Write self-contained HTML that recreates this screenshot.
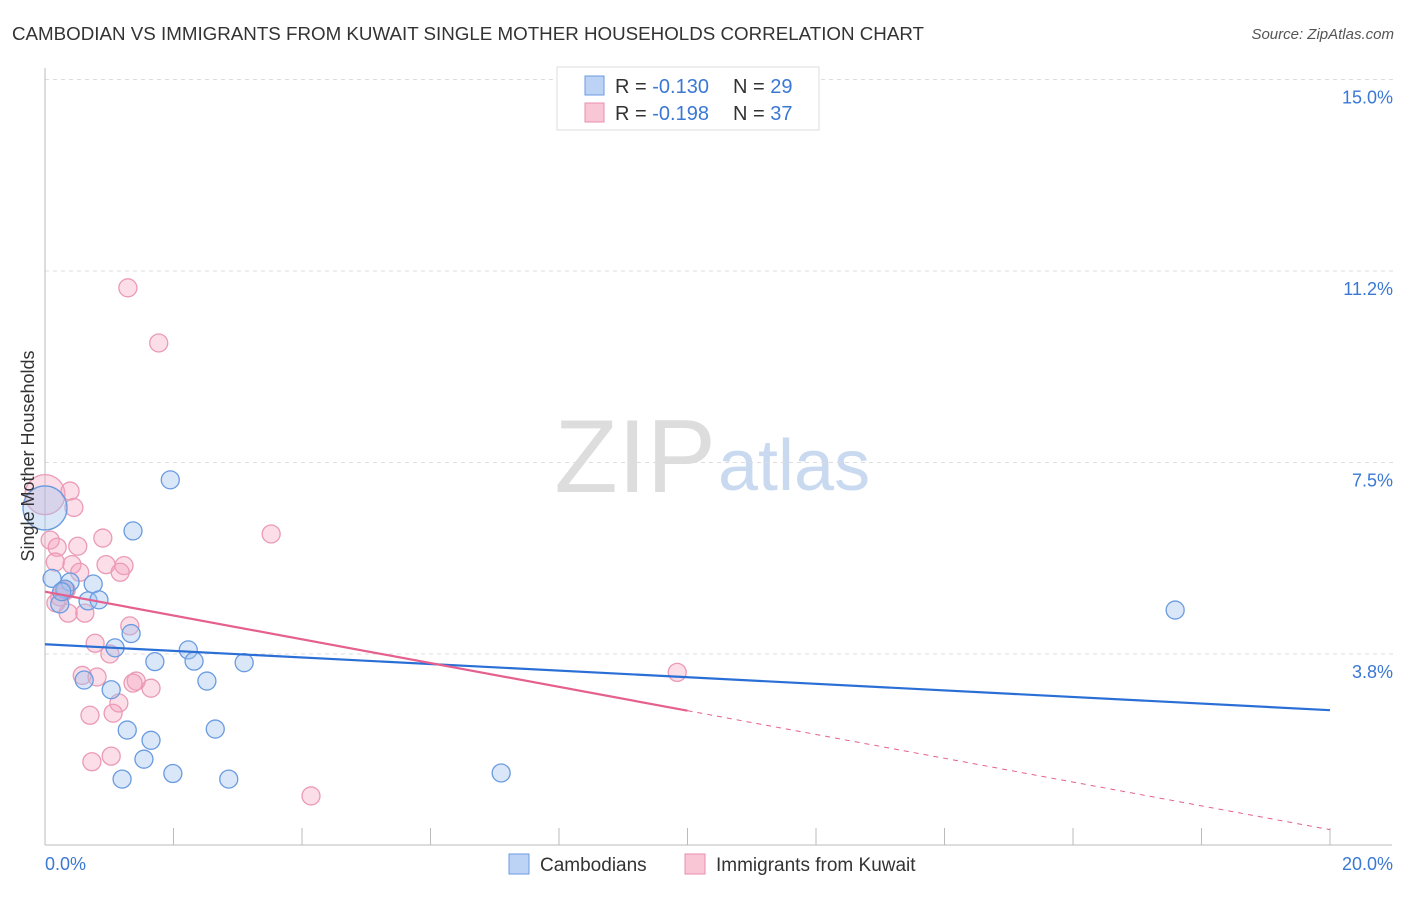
<!DOCTYPE html>
<html><head><meta charset="utf-8"><style>
body{margin:0;background:#fff;font-family:"Liberation Sans",sans-serif;}
svg text{font-family:"Liberation Sans",sans-serif;}
</style></head><body>
<svg id="chart" width="1406" height="892">
<text x="12" y="40" font-size="18" fill="#333" textLength="912" lengthAdjust="spacingAndGlyphs">CAMBODIAN VS IMMIGRANTS FROM KUWAIT SINGLE MOTHER HOUSEHOLDS CORRELATION CHART</text>
<text x="1394" y="39" font-size="15" fill="#555" text-anchor="end" font-style="italic">Source: ZipAtlas.com</text>
<text x="716" y="492" font-size="104" fill="#ddd" text-anchor="end" font-family="Liberation Serif">ZIP</text>
<text x="718" y="490" font-size="72" fill="#c9daf0">atlas</text>
<g id="grid"></g><g id="axes"></g><g id="marks"></g>
<text transform="translate(34,456) rotate(-90)" font-size="18" fill="#333" text-anchor="middle">Single Mother Households</text>
<g>
<rect x="557" y="67" width="262" height="63" fill="#fff" stroke="#ddd"/>
<rect x="585" y="76" width="19" height="19" fill="#bcd3f5" stroke="#6a9be0"/>
<rect x="585" y="103" width="19" height="19" fill="#f9c6d6" stroke="#ea8fae"/>
<text x="615" y="93" font-size="20" fill="#333">R = <tspan fill="#3a78d4">-0.130</tspan><tspan x="733">N = </tspan><tspan fill="#3a78d4">29</tspan></text>
<text x="615" y="120" font-size="20" fill="#333">R = <tspan fill="#3a78d4">-0.198</tspan><tspan x="733">N = </tspan><tspan fill="#3a78d4">37</tspan></text>
</g>
<g>
<rect x="509" y="854" width="20" height="20" fill="#bcd3f5" stroke="#6a9be0"/>
<text x="540" y="871" font-size="19" fill="#333">Cambodians</text>
<rect x="685" y="854" width="20" height="20" fill="#f9c6d6" stroke="#ea8fae"/>
<text x="716" y="871" font-size="19" fill="#333">Immigrants from Kuwait</text>
</g>
</svg>
<script>
const blueX=[1.95,1.37,0.11,0.39,0.75,0.31,0.23,0.67,0.84,1.34,1.09,2.23,2.32,1.71,3.10,0.61,2.52,1.03,2.65,1.28,1.65,1.54,1.99,1.20,2.86,7.10,17.59,0.0,0.26];
const blueY=[7.16,6.16,5.23,5.16,5.12,5.02,4.73,4.79,4.81,4.15,3.87,3.83,3.61,3.60,3.58,3.24,3.22,3.05,2.28,2.26,2.06,1.69,1.41,1.30,1.30,1.42,4.61,6.61,4.97];
const blueR=[9,9,9,9,9,9,9,9,9,9,9,9,9,9,9,9,9,9,9,9,9,9,9,9,9,9,9,22,9];
const pinkX=[1.29,1.77,0,0.39,0.45,3.52,0.08,0.19,0.90,0.51,0.16,0.42,0.95,1.23,1.17,0.54,0.23,0.33,0.36,0.62,0.17,1.32,0.78,1.01,0.58,0.81,1.42,1.37,1.65,1.15,1.06,0.70,9.84,1.03,0.73,4.14,0.30];
const pinkY=[10.92,9.84,6.87,6.94,6.62,6.10,5.98,5.84,6.02,5.86,5.55,5.50,5.50,5.48,5.35,5.35,4.87,5.00,4.55,4.55,4.75,4.30,3.96,3.75,3.33,3.30,3.22,3.18,3.08,2.79,2.59,2.55,3.39,1.75,1.64,0.97,4.97];
const pinkR=[9,9,20,9,9,9,9,9,9,9,9,9,9,9,9,9,9,9,9,9,9,9,9,9,9,9,9,9,9,9,9,9,9,9,9,9,9];
const yTicks=[3.75,7.5,11.25,15.0];
const yTickLabels=["3.8%","7.5%","11.2%","15.0%"];
const xTicks=[0,2,4,6,8,10,12,14,16,18,20];
const blueTrend=[3.94,2.65];
const pinkTrend=[4.97,0.31];
const pinkSolidEnd=10;
const NS="http://www.w3.org/2000/svg";
const sx=v=>45+v*64.25, sy=v=>845.5-v*51.07;
function mk(t,a,p){const e=document.createElementNS(NS,t);for(const k in a)e.setAttribute(k,a[k]);p.appendChild(e);return e;}
const grid=document.getElementById('grid'),axes=document.getElementById('axes'),marks=document.getElementById('marks');
yTicks.forEach((v,i)=>{
 const l=mk('line',{x1:45,x2:1393,y1:sy(v),y2:sy(v),stroke:'#ddd','stroke-dasharray':'4,4'},grid);
 
 
 const t=mk('text',{x:1393,y:sy(v)+24,'font-size':18,fill:'#3a78d4','text-anchor':'end'},axes);
 t.textContent=yTickLabels[i];
 
 
});
mk('line',{x1:45,x2:45,y1:68,y2:845,stroke:'#bbb'},axes);
mk('line',{x1:45,x2:1392,y1:845,y2:845,stroke:'#bbb'},axes);
xTicks.forEach(v=>{const l=mk('line',{x1:sx(v),x2:sx(v),y1:828,y2:845,stroke:'#bbb'},axes);
 
 });
const x0=mk('text',{x:45,y:870,'font-size':18,fill:'#3a78d4'},axes);x0.textContent='0.0%';


const x1=mk('text',{x:1393,y:870,'font-size':18,fill:'#3a78d4','text-anchor':'end'},axes);x1.textContent='20.0%';


pinkX.forEach((x,i)=>{const c=mk('circle',{cx:sx(x),cy:sy(pinkY[i]),r:pinkR[i],fill:'rgba(244,160,188,0.35)',stroke:'#eb9ab5','stroke-width':1.3},marks);
 
 });
blueX.forEach((x,i)=>{const c=mk('circle',{cx:sx(x),cy:sy(blueY[i]),r:blueR[i],fill:'rgba(160,195,240,0.4)',stroke:'#6a9be0','stroke-width':1.3},marks);
 
 });
const bl=mk('line',{x1:sx(0),y1:sy(blueTrend[0]),x2:sx(20),y2:sy(blueTrend[1]),stroke:'#2a6fd6','stroke-width':2.2},marks);


const pm=pinkTrend[0]+(pinkTrend[1]-pinkTrend[0])*pinkSolidEnd/20;
const pl=mk('line',{x1:sx(0),y1:sy(pinkTrend[0]),x2:sx(pinkSolidEnd),y2:sy(pm),stroke:'#e5608e','stroke-width':2.2},marks);


const pd=mk('line',{x1:sx(pinkSolidEnd),y1:sy(pm),x2:sx(20),y2:sy(pinkTrend[1]),stroke:'#e5608e','stroke-width':1,'stroke-dasharray':'5,5'},marks);


</script>
</body></html>
